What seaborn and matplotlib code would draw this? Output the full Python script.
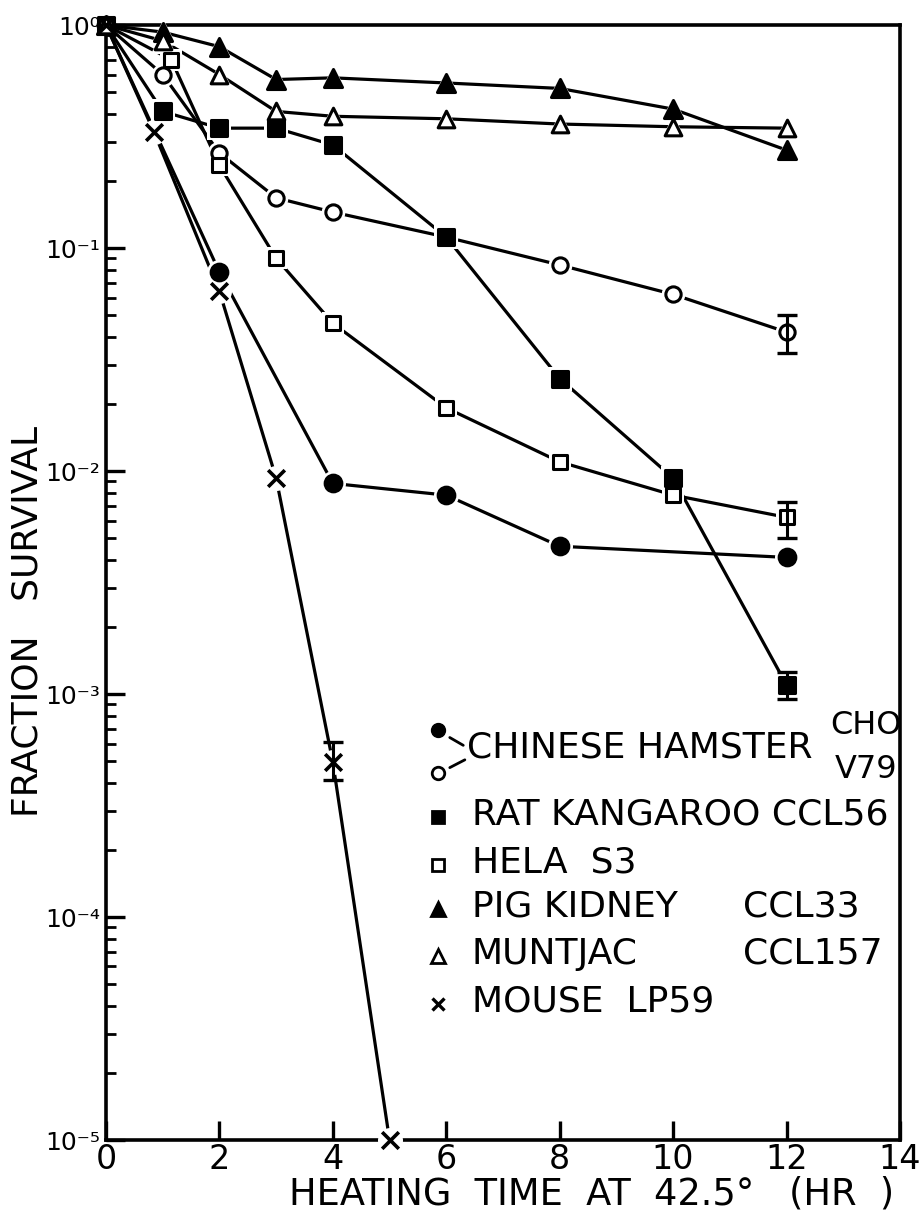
import matplotlib
matplotlib.use("Agg")
import matplotlib.pyplot as plt
from matplotlib.ticker import NullFormatter
import seaborn as sns

# Fraction of cells surviving vs. hours of heating at 42.5 C
cho_t = [0, 2, 4, 6, 8, 12]
cho_s = [1.0, 0.078, 0.0088, 0.0078, 0.0046, 0.0041]

v79_t = [0, 1, 2, 3, 4, 6, 8, 10, 12]
v79_s = [1.0, 0.60, 0.267, 0.168, 0.145, 0.112, 0.084, 0.062, 0.042]
v79_err_t = [12]
v79_err_lo = [0.034]
v79_err_hi = [0.050]

rat_t = [0, 1, 2, 3, 4, 6, 8, 10, 12]
rat_s = [1.0, 0.41, 0.345, 0.345, 0.29, 0.112, 0.026, 0.0093, 0.0011]
rat_err_t = [12]
rat_err_lo = [0.00095]
rat_err_hi = [0.00125]

hela_t = [0, 1.15, 2, 3, 4, 6, 8, 10, 12]
hela_s = [1.0, 0.70, 0.235, 0.090, 0.046, 0.0192, 0.011, 0.0078, 0.0062]
hela_err_t = [12]
hela_err_lo = [0.0050]
hela_err_hi = [0.0073]

pig_t = [0, 1, 2, 3, 4, 6, 8, 10, 12]
pig_s = [1.0, 0.93, 0.80, 0.57, 0.58, 0.55, 0.52, 0.42, 0.275]

munt_t = [0, 1, 2, 3, 4, 6, 8, 10, 12]
munt_s = [1.0, 0.85, 0.60, 0.41, 0.39, 0.38, 0.36, 0.35, 0.345]

mouse_t = [0, 0.85, 2, 3, 4, 5]
mouse_s = [1.0, 0.33, 0.064, 0.0093, 0.000495, 1e-5]
mouse_err_t = [4]
mouse_err_lo = [0.00041]
mouse_err_hi = [0.00061]

x_ticks = [0, 2, 4, 6, 8, 10, 12, 14]
y_ticks = [1e-5, 1e-4, 1e-3, 1e-2, 1e-1, 1e0]
y_tick_labels = ["10⁻⁵", "10⁻⁴", "10⁻³", "10⁻²", "10⁻¹", "10⁰"]

legend_rows = [
    ("RAT KANGAROO CCL56", None),
    ("HELA  S3", None),
    ("PIG KIDNEY", "CCL33"),
    ("MUNTJAC", "CCL157"),
    ("MOUSE  LP59", None),
]

sns.set_style("ticks")
plt.rcParams["font.family"] = ["DejaVu Sans"]
plt.rcParams["text.color"] = "black"
plt.rcParams["axes.labelcolor"] = "black"
plt.rcParams["xtick.color"] = "black"
plt.rcParams["ytick.color"] = "black"

fig = plt.figure(figsize=(9.2, 12.12), dpi=100)
ax = fig.add_axes([0.1152, 0.0594, 0.8630, 0.9199])
ax.set_yscale("log")

# (times, survival, marker, size, filled)
series = [
    (cho_t, cho_s, "o", 12, True),
    (v79_t, v79_s, "o", 11, False),
    (rat_t, rat_s, "s", 11, True),
    (hela_t, hela_s, "s", 10, False),
    (pig_t, pig_s, "^", 13, True),
    (munt_t, munt_s, "^", 12, False),
    (mouse_t, mouse_s, "x", 12, True),
]

for t, s, mk, ms, filled in series:
    sns.lineplot(x=t, y=s, ax=ax, color="black", lw=2.3, sort=False,
                 estimator=None, zorder=2)
    pts_t = [a for a in t if a > 0]
    pts_s = [b for a, b in zip(t, s) if a > 0]
    # white halo leaves a small gap between curve and symbol
    sns.scatterplot(x=pts_t, y=pts_s, ax=ax, marker="o" if mk == "x" else mk,
                    s=(ms + 6) ** 2, color="white", edgecolor="white",
                    linewidth=0, zorder=3, clip_on=False)
    if mk == "x":
        sns.scatterplot(x=t, y=s, ax=ax, marker="x", s=ms ** 2,
                        color="black", linewidth=2.6, zorder=4, clip_on=False)
    else:
        sns.scatterplot(x=t, y=s, ax=ax, marker=mk, s=ms ** 2,
                        facecolor="black" if filled else "white",
                        edgecolor="black", linewidth=2.2, zorder=4,
                        clip_on=False)

for et, elo, ehi, val in [
    (v79_err_t, v79_err_lo, v79_err_hi, v79_s[-1]),
    (rat_err_t, rat_err_lo, rat_err_hi, rat_s[-1]),
    (hela_err_t, hela_err_lo, hela_err_hi, hela_s[-1]),
    (mouse_err_t, mouse_err_lo, mouse_err_hi, mouse_s[4]),
]:
    ax.errorbar(et, [val], yerr=[[val - elo[0]], [ehi[0] - val]], fmt="none",
                ecolor="black", elinewidth=2.2, capsize=7, capthick=2.4,
                zorder=5)

ax.set_xlim(0, 14)
ax.set_ylim(1e-5, 1)
ax.set_xticks(x_ticks)
ax.set_xticklabels([str(v) for v in x_ticks])
ax.set_yticks(y_ticks)
ax.set_yticklabels(y_tick_labels)
ax.yaxis.set_minor_formatter(NullFormatter())
ax.tick_params(axis="both", which="major", direction="in", length=14,
               width=2.4, color="black", labelcolor="black")
ax.tick_params(axis="y", which="minor", direction="in", length=7, width=2.0,
               color="black")
ax.tick_params(axis="x", which="major", labelsize=24, pad=2)
ax.tick_params(axis="y", which="major", labelsize=18, pad=4)
ax.tick_params(right=False, top=False, which="both")
for sp in ax.spines.values():
    sp.set_visible(True)
    sp.set_linewidth(2.6)
    sp.set_color("black")

ax.set_xlabel("HEATING  TIME  AT  42.5°   (HR  )", fontsize=26.5,
              color="black")
ax.xaxis.label.set_va("baseline")
ax.xaxis.set_label_coords(0.612, -0.058)
ax.set_ylabel("FRACTION   SURVIVAL", fontsize=26, color="black")
ax.yaxis.set_label_coords(-0.077, 0.465)

# key, placed in axes fractions
tr = ax.transAxes
lx = 0.418
ax.plot([lx], [0.368], marker="o", ms=10, color="black", transform=tr,
        clip_on=False)
ax.plot([lx], [0.329], marker="o", ms=9, mfc="white", mec="black", mew=2,
        transform=tr, clip_on=False)
ax.plot([0.433, 0.450], [0.361, 0.354], color="black", lw=2, transform=tr)
ax.plot([0.433, 0.452], [0.334, 0.341], color="black", lw=2, transform=tr)
ax.text(0.455, 0.352, "CHINESE HAMSTER", fontsize=26, va="center",
        ha="left", color="black", transform=tr)
ax.text(0.912, 0.372, "CHO", fontsize=23, va="center", ha="left",
        color="black", transform=tr)
ax.text(0.918, 0.332, "V79", fontsize=23, va="center", ha="left",
        color="black", transform=tr)

key_marks = [("s", True, 9), ("s", False, 8), ("^", True, 10),
             ("^", False, 10), ("x", True, 9)]
key_y = [0.290, 0.247, 0.207, 0.165, 0.122]
for (label, code), (mk, filled, ms), yy in zip(legend_rows, key_marks, key_y):
    if mk == "x":
        ax.plot([lx], [yy], marker="x", ms=ms, mew=2.4, color="black",
                transform=tr, clip_on=False)
    else:
        ax.plot([lx], [yy], marker=mk, ms=ms,
                mfc="black" if filled else "white", mec="black", mew=2,
                transform=tr, clip_on=False)
    ax.text(0.461, yy + 0.002, label, fontsize=26, va="center", ha="left",
            color="black", transform=tr)
    if code:
        ax.text(0.802, yy + 0.002, code, fontsize=26, va="center",
                ha="left", color="black", transform=tr)

fig.savefig("out.png", dpi=100)
